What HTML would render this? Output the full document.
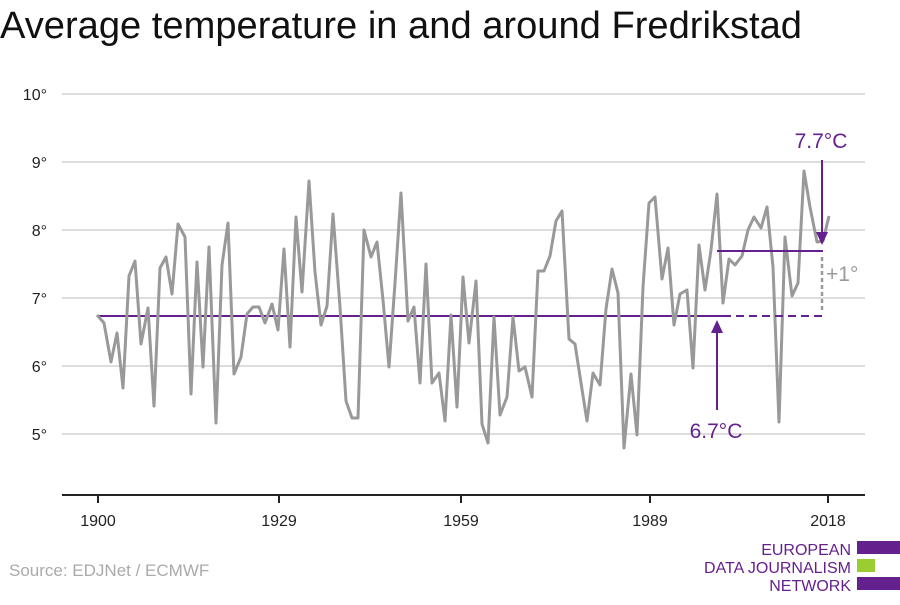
<!DOCTYPE html>
<html><head><meta charset="utf-8"><style>
body{margin:0;background:#fff;width:900px;height:600px;overflow:hidden;font-family:"Liberation Sans",sans-serif}
</style></head><body>
<svg width="900" height="600" xmlns="http://www.w3.org/2000/svg" font-family="Liberation Sans, sans-serif">
<text x="0" y="38" font-size="38" fill="#111" textLength="802" lengthAdjust="spacingAndGlyphs">Average temperature in and around Fredrikstad</text>
<g stroke="#ddd" stroke-width="2">
<line x1="62" x2="865" y1="94" y2="94"/><line x1="62" x2="865" y1="162" y2="162"/><line x1="62" x2="865" y1="230" y2="230"/><line x1="62" x2="865" y1="298" y2="298"/><line x1="62" x2="865" y1="366" y2="366"/><line x1="62" x2="865" y1="434" y2="434"/>
</g>
<g font-size="16" fill="#222" text-anchor="end">
<text x="47" y="100">10°</text><text x="47" y="168">9°</text><text x="47" y="236">8°</text><text x="47" y="304">7°</text><text x="47" y="372">6°</text><text x="47" y="440">5°</text>
</g>
<line x1="62" x2="865" y1="495" y2="495" stroke="#222" stroke-width="2"/>
<g stroke="#222" stroke-width="2"><line x1="98" x2="98" y1="495" y2="503"/><line x1="279" x2="279" y1="495" y2="503"/><line x1="461" x2="461" y1="495" y2="503"/><line x1="650" x2="650" y1="495" y2="503"/><line x1="828" x2="828" y1="495" y2="503"/></g>
<g font-size="16" fill="#222" text-anchor="middle">
<text x="98" y="526">1900</text><text x="279" y="526">1929</text><text x="461" y="526">1959</text><text x="650" y="526">1989</text><text x="828" y="526">2018</text>
</g>
<line x1="97" x2="723" y1="316" y2="316" stroke="#64218e" stroke-width="2"/>
<polyline fill="none" stroke="#999" stroke-width="3" stroke-linejoin="round" points="97,315 104,323 111,362 117,333 123,388 129,276 135,261 141,344 148,308 154,406 160,268 166,257 172,294 178,224 185,237 191,394 197,262 203,367 209,247 216,423 222,265 228,223 234,374 241,357 247,314 253,307 259,307 265,323 272,304 278,330 284,249 290,347 296,217 302,292 309,181 315,272 321,325 327,306 333,214 340,307 346,401 352,418 358,418 364,230 371,257 377,242 383,300 389,367 395,283 401,193 408,321 414,307 420,383 426,264 432,383 439,373 445,421 451,315 457,407 463,277 469,343 476,281 482,424 488,443 494,317 500,415 507,397 513,317 519,371 525,367 532,397 538,271 544,271 550,256 556,221 562,211 569,339 575,344 581,383 587,421 593,373 600,385 606,309 612,269 618,293 624,448 631,374 637,435 643,287 649,203 655,197 662,279 668,248 674,325 680,294 687,290 693,368 699,245 705,290 711,250 717,194 723,303 729,259 735,265 742,256 748,230 754,217 761,228 767,207 773,267 779,422 785,237 792,296 798,283 804,171 810,207 817,242 823,241 829,216"/>
<line x1="723" x2="823" y1="316" y2="316" stroke="#64218e" stroke-width="2" stroke-dasharray="8,5"/>
<line x1="717" x2="823" y1="251" y2="251" stroke="#64218e" stroke-width="2"/>
<line x1="822" x2="822" y1="257" y2="313" stroke="#999" stroke-width="2.5" stroke-dasharray="4,3"/>
<text x="826" y="281" font-size="21" fill="#999">+1°</text>
<line x1="822" x2="822" y1="160" y2="232" stroke="#64218e" stroke-width="2"/>
<polygon points="816,232 828,232 822,245" fill="#64218e"/>
<line x1="717" x2="717" y1="410" y2="333" stroke="#64218e" stroke-width="2"/>
<polygon points="711,333 723,333 717,320" fill="#64218e"/>
<text x="821" y="148" font-size="21" fill="#64218e" text-anchor="middle">7.7°C</text>
<text x="716" y="438" font-size="21" fill="#64218e" text-anchor="middle">6.7°C</text>
<text x="9" y="576" font-size="17" fill="#aaa">Source: EDJNet / ECMWF</text>
<g font-size="16" fill="#64218e" text-anchor="end">
<text x="851" y="555">EUROPEAN</text><text x="851" y="573">DATA JOURNALISM</text><text x="851" y="591">NETWORK</text>
</g>
<rect x="857" y="541" width="43" height="13" fill="#64218e"/>
<rect x="857" y="559" width="18" height="13" fill="#9acd32"/>
<rect x="857" y="577" width="43" height="13" fill="#64218e"/>
</svg>
</body></html>
